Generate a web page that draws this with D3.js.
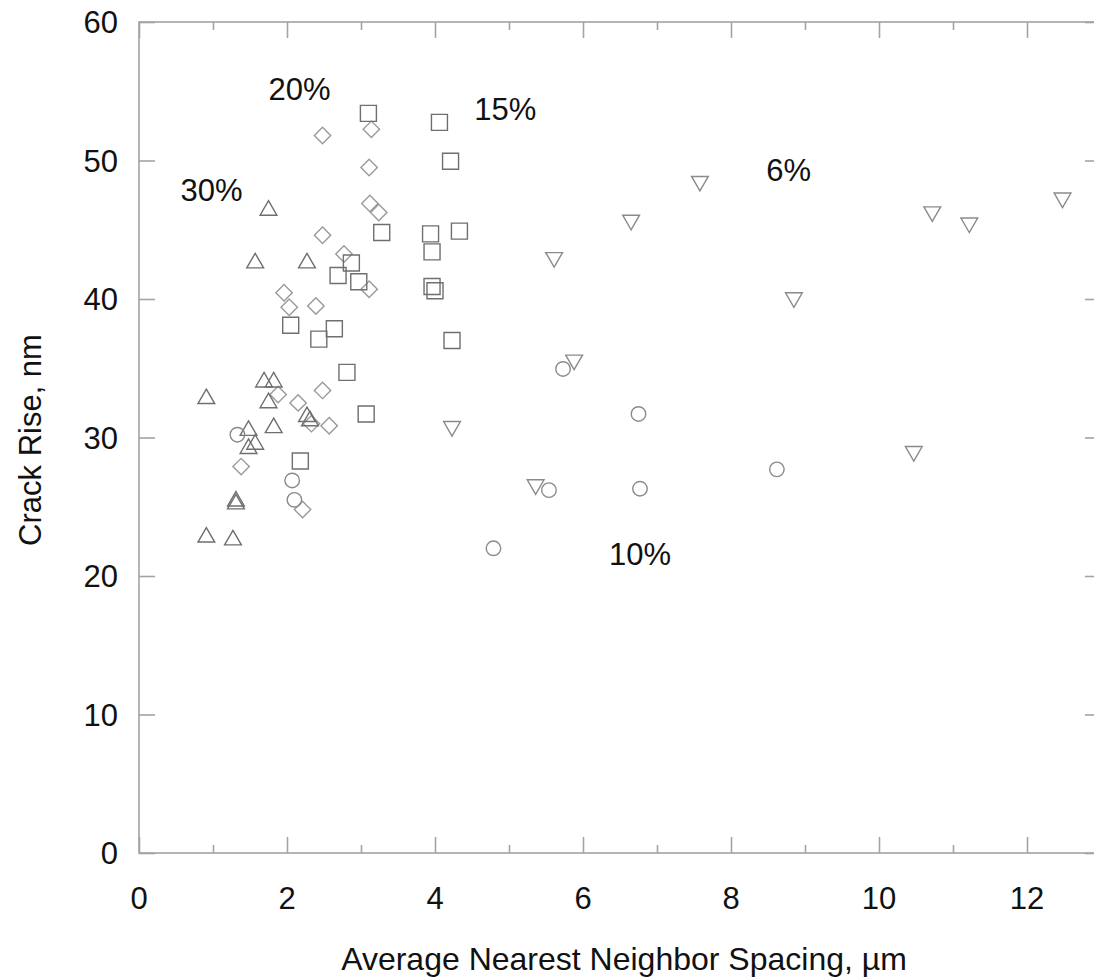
<!DOCTYPE html>
<html>
<head>
<meta charset="utf-8">
<script src="https://cdn.jsdelivr.net/npm/d3@7/dist/d3.min.js"></script>
<style>
  html, body { margin: 0; padding: 0; background: #fff; }
  svg { display: block; }
  text { font-family: Arial, "Liberation Sans", Helvetica, sans-serif; fill: #111; }
</style>
</head>
<body>
<svg id="chart" width="1094" height="980"></svg>
<script>
// Crack rise vs. average nearest-neighbour spacing, grouped by volume fraction.
// Each group: [spacing (µm), crack rise (nm)] pairs.
const pct30 = [
  [0.91, 32.8], [1.69, 34.0], [1.82, 34.0], [1.75, 32.5], [1.82, 30.7],
  [1.48, 30.5], [1.57, 29.5], [1.48, 29.2], [1.31, 25.4], [1.31, 25.2],
  [0.91, 22.8], [1.27, 22.6], [1.75, 46.4], [1.57, 42.6], [2.27, 42.6],
  [2.27, 31.5], [2.31, 31.2]
];
const pct20 = [
  [2.48, 51.8], [3.14, 52.25], [3.11, 49.5], [3.12, 46.9], [3.24, 46.25],
  [2.48, 44.6], [2.77, 43.25], [3.11, 40.7], [2.39, 39.5], [1.96, 40.45],
  [2.03, 39.4], [1.88, 33.1], [2.15, 32.5], [2.48, 33.4], [2.33, 31.0],
  [2.57, 30.85], [1.38, 27.9], [2.21, 24.8]
];
const pct15 = [
  [3.10, 53.4], [4.06, 52.75], [4.21, 49.95], [3.28, 44.8], [3.94, 44.7],
  [4.33, 44.9], [3.96, 43.4], [2.87, 42.6], [2.69, 41.7], [2.97, 41.25],
  [3.96, 40.9], [4.00, 40.6], [2.05, 38.1], [2.43, 37.1], [2.64, 37.85],
  [2.81, 34.7], [3.07, 31.7], [4.23, 37.0], [2.18, 28.3]
];
const pct10 = [
  [1.33, 30.2], [2.07, 26.9], [2.10, 25.5], [5.73, 34.95], [6.75, 31.7],
  [5.54, 26.2], [6.77, 26.3], [8.62, 27.7], [4.79, 22.0]
];
const pct6 = [
  [7.58, 48.5], [6.65, 45.7], [5.61, 43.0], [8.85, 40.1], [5.88, 35.6],
  [4.23, 30.8], [5.36, 26.6], [10.47, 29.0], [10.72, 46.3], [11.22, 45.5],
  [12.48, 47.3]
];

// Group annotations: [text, x, y]
const groupLabels = [
  ["30%", 0.98, 47.1],
  ["20%", 2.17, 54.4],
  ["15%", 4.95, 52.9],
  ["6%", 8.78, 48.5],
  ["10%", 6.77, 20.8]
];

const xTicks = [0, 2, 4, 6, 8, 10, 12];
const xMinorTicks = [1, 3, 5, 7, 9, 11];
const yTicks = [0, 10, 20, 30, 40, 50, 60];

const xTitle = "Average Nearest Neighbor Spacing, \u00b5m";
const yTitle = "Crack Rise, nm";

const svg = d3.select("#chart");
const plotL = 139, plotR = 1101, plotT = 22, plotB = 853;

const x = d3.scaleLinear().domain([0, 13]).range([plotL, plotR]);
const y = d3.scaleLinear().domain([0, 60]).range([plotB, plotT]);

const axisColor = "#a3a3a3";
const major = 16, minor = 8;

// Frame with inward ticks on all four sides
svg.append("rect")
  .attr("x", plotL).attr("y", plotT)
  .attr("width", plotR - plotL).attr("height", plotB - plotT)
  .attr("fill", "none").attr("stroke", axisColor).attr("stroke-width", 1.6);

function tickAxis(axisFn, scale, ticks, size, transform) {
  const g = svg.append("g").attr("transform", transform)
    .call(axisFn(scale).tickValues(ticks).tickSize(size).tickFormat(""));
  g.select(".domain").remove();
  g.selectAll("line").attr("stroke", axisColor).attr("stroke-width", 1.6);
  return g;
}
// bottom & top (ticks pointing into the plot)
tickAxis(d3.axisTop, x, xTicks, major, `translate(0,${plotB})`);
tickAxis(d3.axisTop, x, xMinorTicks, minor, `translate(0,${plotB})`);
tickAxis(d3.axisBottom, x, xTicks, major, `translate(0,${plotT})`);
tickAxis(d3.axisBottom, x, xMinorTicks, minor, `translate(0,${plotT})`);
// left & right
tickAxis(d3.axisRight, y, yTicks, major, `translate(${plotL},0)`);
tickAxis(d3.axisLeft, y, yTicks, major, `translate(${plotR},0)`);

// Tick labels
const fs = 31;
svg.append("g").selectAll("text").data(xTicks).join("text")
  .attr("x", d => x(d)).attr("y", 909)
  .attr("text-anchor", "middle").attr("font-size", fs)
  .text(d => d);
svg.append("g").selectAll("text").data(yTicks).join("text")
  .attr("x", 118).attr("y", d => y(d) + 11)
  .attr("text-anchor", "end").attr("font-size", fs)
  .text(d => d);

// Axis titles
svg.append("text")
  .attr("x", 624).attr("y", 970)
  .attr("text-anchor", "middle").attr("font-size", 32)
  .text(xTitle);
svg.append("text")
  .attr("transform", "translate(41,440) rotate(-90)")
  .attr("text-anchor", "middle").attr("font-size", fs)
  .text(yTitle);

// Markers
const sw = 1.4;
function drawSeries(data, path, stroke, rotate) {
  svg.append("g").selectAll("path").data(data).join("path")
    .attr("d", path)
    .attr("transform", d => `translate(${x(d[0])},${y(d[1])})` + (rotate ? ` rotate(${rotate})` : ""))
    .attr("fill", "none")
    .attr("stroke", stroke)
    .attr("stroke-width", sw);
}
const tri = d3.symbol().type(d3.symbolTriangle).size(122)();
const sq = d3.symbol().type(d3.symbolSquare).size(256)();
const dia = d3.symbol().type(d3.symbolSquare).size(135)();
const circ = d3.symbol().type(d3.symbolCircle).size(165)();

drawSeries(pct20, dia, "#9a9a9a", 45);
drawSeries(pct15, sq, "#6f6f6f");
drawSeries(pct30, tri, "#6f6f6f");
drawSeries(pct10, circ, "#8a8a8a");
drawSeries(pct6, tri, "#8a8a8a", 180);

// Group annotations
svg.append("g").selectAll("text").data(groupLabels).join("text")
  .attr("x", d => x(d[1])).attr("y", d => y(d[2]))
  .attr("text-anchor", "middle").attr("font-size", fs)
  .text(d => d[0]);
</script>
</body>
</html>
